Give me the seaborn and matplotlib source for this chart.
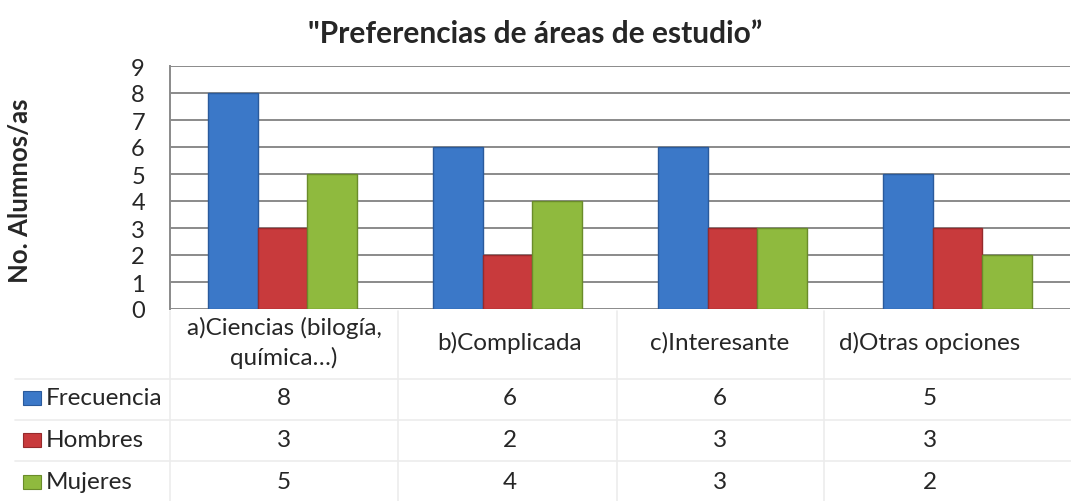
import matplotlib
matplotlib.use("Agg")
import matplotlib.pyplot as plt
import seaborn as sns
import pandas as pd
import numpy as np

categories = ["a)Ciencias (bilogía,\nquímica…)", "b)Complicada", "c)Interesante", "d)Otras opciones"]
series = ["Frecuencia", "Hombres", "Mujeres"]
frecuencia = [8, 6, 6, 5]
hombres = [3, 2, 3, 3]
mujeres = [5, 4, 3, 2]
colors = ["#3b78c8", "#c83a3c", "#8fba3e"]
edges = ["#2a5a9c", "#962a2c", "#6a8c2a"]

sns.set_theme(style="white")
plt.rcParams["font.family"] = ["Lato", "DejaVu Sans"]

W, H = 1071, 502
fig = plt.figure(figsize=(W / 100, H / 100), dpi=100)

df = pd.DataFrame({
    "cat": np.repeat(categories, 3),
    "serie": series * len(categories),
    "val": [v for trio in zip(frecuencia, hombres, mujeres) for v in trio],
})

ax = fig.add_axes([170 / W, 1 - 310 / H, 900 / W, 243 / H])
sns.barplot(data=df, x="cat", y="val", hue="serie", hue_order=series,
            palette=colors, width=0.66, ax=ax, legend=False, saturation=1)
for i, cont in enumerate(ax.containers):
    for p in cont:
        p.set_edgecolor(edges[i])
        p.set_linewidth(1.0)
        p.set_zorder(3)

ax.set_ylim(0, 9)
ax.set_xlim(-0.5, 3.5)
ax.set_yticks(range(0, 10))
ax.set_yticklabels([str(i) for i in range(0, 10)], fontsize=17)
ax.set_xticks([])
ax.set_xlabel("")
ax.set_ylabel("No. Alumnos/as", fontsize=18.5, fontweight="bold")
ax.yaxis.set_label_coords(-0.153, 0.49)
ax.yaxis.grid(True, color="#8a8a8a", linewidth=1.4)
ax.set_axisbelow(True)
for s in ["top", "right", "bottom"]:
    ax.spines[s].set_visible(False)
ax.spines["left"].set_color("#8a8a8a")
ax.spines["left"].set_linewidth(1.4)
ax.tick_params(axis="y", which="both", left=False, length=0, pad=18)

fig.text(535 / W, 1 - 34 / H, "\"Preferencias de áreas de estudio”",
         ha="center", va="center", fontsize=21.5, fontweight="bold")

# table
tx = fig.add_axes([0, 0, 1, 1])
tx.set_xlim(0, W)
tx.set_ylim(H, 0)
tx.axis("off")
col_lines = [170, 398, 617, 824]
col_centers = [284, 510, 720, 930]
row_lines = [380, 421, 462]
row_centers = [399, 441, 483]
line_c = "#ececec"
for x in col_lines:
    tx.plot([x, x], [312, H], color=line_c, lw=1.2)
for y in row_lines:
    tx.plot([15, W], [y, y], color=line_c, lw=1.2)

for cx, lab in zip(col_centers, categories):
    tx.text(cx, 343, lab, ha="center", va="center", fontsize=17.5,
            linespacing=1.45)

vals = [frecuencia, hombres, mujeres]
for r, (name, v, c, e) in enumerate(zip(series, vals, colors, edges)):
    cy = row_centers[r]
    tx.add_patch(plt.Rectangle((23, cy - 7), 18, 14, facecolor=c, edgecolor=e, lw=0.8))
    tx.text(46, cy, name, ha="left", va="center", fontsize=17.5)
    for cx, val in zip(col_centers, v):
        tx.text(cx, cy, str(val), ha="center", va="center", fontsize=17.5)

fig.savefig("out.png", dpi=100)
